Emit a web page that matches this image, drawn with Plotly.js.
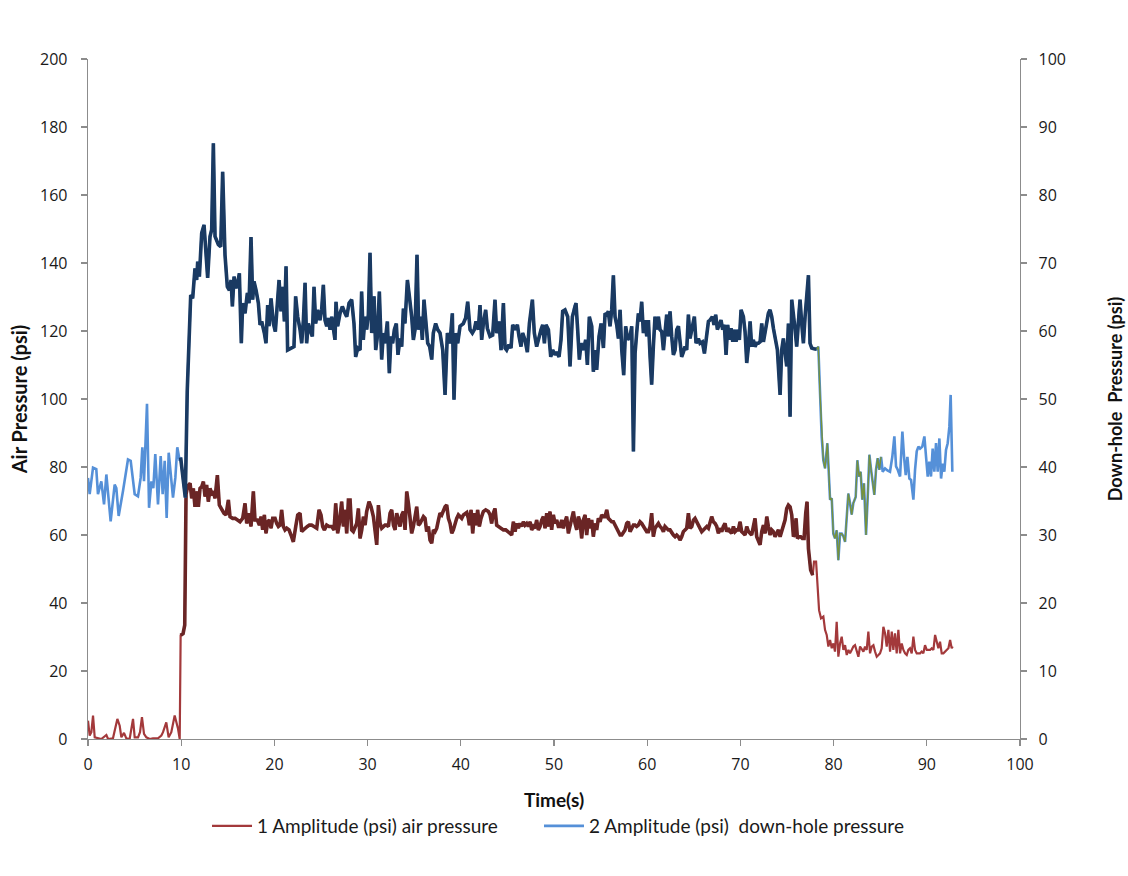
<!DOCTYPE html>
<html>
<head>
<meta charset="utf-8">
<script src="https://cdn.plot.ly/plotly-3.0.1.min.js"></script>
<style>
  html, body { margin: 0; padding: 0; background: #ffffff; }
  #chart { width: 1128px; height: 876px; }
</style>
</head>
<body>
<div id="chart"></div>
<script>
// ---------------- Data: air pressure (left axis, psi) ----------------
const airT_A = [0,0.18,0.36,0.54,0.72,1.07,1.43,1.97,2.15,2.68,3.15,3.4,3.58,3.86,4.11,4.47,4.83,5.01,5.37,5.58,5.79,6.01,6.26,6.62,6.97,7.51,7.87,8.05,8.4,8.65,8.94,9.3,9.66,9.84];
const airP_A = [5.4,1,2,6.9,0.5,0.2,0,1.2,0,0.2,5.9,3.9,0.5,1.8,0.2,0,5.9,0.5,0.5,2,6.4,1.5,0.5,0,0.2,0.2,1,2,4.9,0.5,2,6.9,3,0];

const airT_B1 = [9.94,10.2,10.38,10.52,10.7,10.95,11.13,11.3,11.48,11.66,11.84,12.02,12.2,12.38,12.56,12.73,12.91,13.09,13.27,13.45,13.63,13.88,14.09,14.34,14.59,14.81,15.06,15.24,15.52,15.78,16.03,16.31,16.6,16.85,17.03,17.28,17.49,17.74,17.92,18.17,18.39,18.57,18.74,18.92,19.1,19.28,19.46,19.64,19.82];
const airP_B1 = [30.5,31,33.5,72,74.4,75.2,70.8,73.7,68.3,72.8,68.3,73.7,74.2,75.7,71.3,74.7,69.8,73.7,72.3,72.8,70.8,77.6,68.8,67.4,66.4,65.9,70.3,65.4,64.9,64.9,64.4,63.9,64.9,69.3,63.4,66.4,62.5,72.8,64.4,64.4,62.9,65.4,61.5,65.9,60.5,63.9,64.4,62,64.9];

const airT_B2 = [20.07,20.25,20.43,20.6,20.78,20.96,21.14,21.32,21.57,21.78,22.03,22.29,22.5,22.75,22.93,23.11,23.29,23.54,23.75,24,24.25,24.54,24.79,25,25.18,25.36,25.61,25.86,26.15,26.4,26.58,26.79,26.97,27.22,27.4,27.58,27.76,27.94,28.12,28.29,28.47,28.65,28.83,29.01,29.19,29.37,29.55,29.73,29.9,30.15,30.37,30.62,30.8];
const airP_B2 = [64.9,63.4,62.5,62.9,67.4,62.5,61.5,62,61.5,60,58,62.5,65.9,66.4,61,61.5,62,62.5,62.9,62.9,62.5,62,67.4,65.9,62.5,61.5,62.9,62.5,62.5,61.5,69.3,60.5,63.4,69.8,62.5,67.4,60.5,70.3,70.3,61.5,61,62,63.4,67.8,59,61.5,65.4,62.9,66.9,69.8,68.3,65.4,61.5];

const airT_B3 = [30.98,31.16,31.34,31.51,31.69,31.87,32.05,32.23,32.41,32.59,32.77,32.95,33.12,33.3,33.48,33.66,33.84,34.02,34.2,34.38,34.55,34.73,34.91,35.09,35.27,35.45,35.63,35.81,35.99,36.16,36.34,36.52,36.7,36.88,37.06,37.24,37.42,37.6,37.77,37.95,38.13,38.31,38.49,38.67,38.85,39.03,39.2,39.38,39.56,39.74,39.92,40.1,40.28,40.46,40.64,40.81];
const airP_B3 = [57.1,68.8,63.4,62,62.5,62.9,62.9,62.5,66.4,67.4,62.9,61.5,66.4,63.9,62.5,65.9,66.9,61.5,72.8,69.3,65.9,60.5,62.5,65.4,68.3,62.9,63.4,64.4,65.4,64.9,61,62.5,58.5,57.6,61.5,61,62,64.4,66.4,65.9,67.4,68.3,68.8,64.9,63.4,60.5,61.5,63.4,64.9,65.9,65.4,64.9,65.9,66.4,66.6,64.9];

const airT_B4 = [40.92,41.1,41.28,41.45,41.63,41.81,41.99,42.17,42.42,42.67,42.96,43.14,43.31,43.49,43.67,43.85,44.03,44.28,44.57,44.82,45.1,45.28,45.46,45.64,45.82,46,46.18,46.35,46.53,46.71,46.89,47.07,47.25,47.43,47.61,47.79,47.96,48.14,48.32,48.5,48.68,48.86,49.04,49.22,49.4,49.57,49.75,49.93,50.11,50.29,50.47,50.65,50.83];
const airP_B4 = [62.9,67.4,60.5,66.4,62.9,67.4,62.5,64.9,66.9,67.4,66.9,65.9,63.4,66.4,67.8,62.9,62.5,62,61.5,61.5,61,60.5,60,63.9,61,63.4,62,63.4,62.5,63.9,62.9,63.4,62.5,63.9,61.5,62.5,62,64.4,61.5,62.5,64.4,65.4,62,66.4,62.5,66.9,61.5,65.9,63.4,64.4,62.5,62.5,64.4];

const airT_B5 = [51,51.18,51.36,51.54,51.72,51.9,52.08,52.26,52.44,52.61,52.79,52.97,53.15,53.33,53.51,53.69,53.87,54.05,54.22,54.4,54.58,54.76,54.94,55.12,55.3,55.48,55.66,55.83,56.01,56.19,56.37,56.55,56.73,56.91,57.09,57.27,57.44,57.62,57.8,57.98,58.16,58.34,58.52,58.7,58.87,59.05,59.23,59.41,59.59,59.77,59.95,60.13,60.31,60.48,60.66,60.84];
const airP_B5 = [62,63.9,65.4,60.5,62.9,64.4,66.9,63.4,61.5,65.4,63.9,59,64.4,65.9,60,64.9,62,64.4,59.5,63.4,61.5,64.9,63.9,65.9,65.4,65.4,67.4,64.9,64.4,63.9,63.9,62.9,62,61,60,60,61,61.5,63.4,63.9,61,62,62.9,62.9,62.5,62.9,63.9,63.4,62.5,61.5,61,61,62.5,66.4,59.5,62];

const airT_B6 = [61.02,61.2,61.38,61.56,61.74,61.91,62.09,62.27,62.45,62.63,62.81,62.99,63.17,63.35,63.52,63.7,63.88,64.06,64.24,64.42,64.6,64.78,64.96,65.13,65.31,65.49,65.67,65.85,66.03,66.21,66.39,66.57,66.74,66.92,67.1,67.28,67.46,67.64,67.82,68,68.17,68.35,68.53,68.71,68.89,69.07,69.25,69.43,69.61,69.78,69.96,70.14,70.32,70.5,70.68,70.86];
const airP_B6 = [62.9,63.4,62.5,62,61,62.5,62,61.5,61.5,60.5,60,59.5,60,59.5,58.5,59.5,61,61.5,62,66.4,62,62.5,64.4,64.9,63.9,62.5,62,61,61.5,62,62.5,62,63.9,65.4,63.9,63.4,62.5,60.5,62,61,62.5,63.4,61,62,61,60.5,62.5,61,61.5,61.5,63.9,61,60.5,60,62.5,61];

const airT_B7 = [71.04,71.21,71.39,71.57,71.75,71.93,72.11,72.29,72.47,72.65,72.83,73,73.18,73.36,73.54,73.72,73.9,74.08,74.26,74.43,74.61,74.79,74.97,75.15,75.33,75.51,75.69,75.87,75.97,76.12,76.29,76.47,76.65,76.83,77.01,77.15,77.3,77.54,77.76];
const airP_B7 = [60.5,60,62.5,64.9,59.5,58,57.1,61,62.9,60.5,65.4,62.5,60,61.5,61,59.5,60.5,61.5,59.5,61,62.5,64.4,67.8,68.8,68.3,65.9,59.5,60.5,64.9,59,59.5,59.5,59,59,66.4,69.8,56,49.7,48.2];

const airT_C = [77.9,78.12,78.29,78.44,78.65,78.9,79.08,79.26,79.44,79.62,79.8,79.98,80.15,80.33,80.51,80.69,80.87,81.05,81.23,81.41,81.59,81.76,81.94,82.12,82.3,82.48,82.66,82.84,83.02,83.2,83.37,83.55,83.73,83.91,84.09,84.27,84.45,84.63,84.81,84.98,85.16,85.34,85.52,85.7,85.88,86.06,86.24,86.41,86.59,86.77,86.95,87.13,87.31,87.49,87.67,87.85,88.02,88.2,88.38,88.56,88.74,88.92,89.1,89.28,89.45,89.63,89.81,89.99,90.17,90.35,90.53,90.71,90.89,91.06,91.24,91.42,91.6,91.78,91.96,92.14,92.32,92.5,92.67,92.78];
const airP_C = [52.2,52.2,43.8,37.9,35.5,36,32.1,30.6,27.2,29.1,26.7,28.1,25.7,34.5,24.2,28.1,30.1,26.2,27.6,24.7,26.2,25.2,26.2,27.2,27.6,25.7,24.2,27.2,26.2,25.7,27.2,26.2,31.6,25.2,27.2,27.6,25.7,24.2,24.7,25.2,26.7,33,31.1,27.2,32.1,25.7,31.6,26.2,31.1,25.2,32.1,25.2,28.1,26.2,25.2,24.7,26.2,26.7,25.2,30.1,26.2,25.2,25.2,25.2,25.7,25.2,27.6,26.2,26.2,26.2,26.7,26.2,30.6,28.6,26.7,28.6,25.2,25.2,25.7,26.2,26.7,29.1,26.7,27.2];

// ---------------- Data: down-hole pressure (right axis, psi) ----------------
const holeT_A = [0,0.18,0.54,0.89,1.07,1.43,1.72,1.97,2.43,2.86,3.04,3.29,3.76,4.29,4.58,5.01,5.36,5.65,5.83,6.01,6.33,6.55,6.8,7.01,7.22,7.51,7.8,8.01,8.23,8.44,8.66,8.87,9.12,9.37,9.58,9.84];
const holeP_A = [38.4,36,39.9,39.7,36,37.9,34.5,38.9,32,37.4,36.9,32.8,36.5,41.1,40.9,36,35.7,38.4,42.9,37.9,49.3,34,37.9,36.9,41.9,34.5,41.6,36,40.9,32.5,42.1,39.4,35.5,38.4,42.9,40.9];

const holeT_B1 = [9.94,10.19,10.44,10.65,11.02,11.23,11.48,11.66,11.77,11.95,12.2,12.45,12.66,12.84,13.09,13.27,13.45,13.63,13.99,14.24,14.45,14.7,14.95,15.17,15.35,15.49,15.67,15.88,16.06,16.24,16.45,16.6,16.85,17.1,17.28,17.49,17.67,17.81,18.03,18.28,18.46,18.64,18.92,19.1,19.28,19.42,19.64,19.89];
const holeP_B1 = [41.4,38.4,35.5,51.3,65.3,64.8,69.2,67.5,70.2,68,74.4,75.6,71.9,67.8,73.9,74.9,87.6,73.9,72.7,72.4,83.4,71.2,66.5,66,67.5,63.6,68,66.3,67,68.5,58.2,64.1,62.6,65.6,64.1,73.8,64.6,67.3,66,64.1,60.9,61.4,59.7,58.2,63.8,60.7,64.8,61.1];

const holeT_B2 = [20.1,20.32,20.5,20.71,20.89,21.07,21.25,21.42,21.85,22.1,22.28,22.5,22.75,22.93,23.11,23.29,23.46,23.64,23.82,24.07,24.25,24.43,24.64,24.89,25.07,25.25,25.43,25.61,25.79,25.97,26.15,26.33,26.5,26.61,26.79,27.04,27.29,27.58,27.76,28.01,28.29,28.54,28.72,28.94,29.19,29.36,29.54,29.72,29.9];
const holeP_B2 = [59.9,64.1,67.5,62.9,66.5,61.4,69.5,57.2,57.5,57.7,65.1,62.1,60.2,58.2,61.6,67.1,58.2,61.1,60.2,59.2,66.5,61.1,63.1,61.6,63.1,66.8,61.6,60.7,61.9,60.2,62.1,60.2,58.7,64.3,60.7,62.6,63.6,62.6,62.1,64.1,64.6,61.1,56.2,57.5,57.2,65.8,58.7,62.1,60.2];

const holeT_B3 = [30.08,30.26,30.44,30.69,30.87,31.05,31.26,31.51,31.69,31.87,32.12,32.33,32.51,32.69,32.87,33.08,33.26,33.48,33.66,33.84,34.01,34.27,34.48,34.73,34.91,35.09,35.3,35.48,35.7,35.87,36.05,36.23,36.45,36.66,36.88,37.05,37.3,37.52,37.77,38.06,38.31,38.56,38.84,39.09,39.27,39.49,39.67,39.92];
const holeP_B3 = [62.4,71.5,59.7,65.1,57.2,59.2,65.8,55.8,59.7,58.2,61.4,53.8,59.2,58.2,60.2,61.1,56.5,58.9,57.7,63.3,61.1,67.5,65.1,62.1,58.7,60.2,71.2,60.2,62.1,58.7,64.6,62.1,58.2,57.7,55.8,59.7,61.1,60.2,59.7,57.2,50.6,59.7,58.2,62.6,49.9,59.7,58.2,60.7];

const holeT_B4 = [40.27,40.52,40.74,40.99,41.24,41.45,41.63,41.88,42.06,42.24,42.42,42.67,42.85,43.14,43.42,43.67,43.85,44.1,44.32,44.57,44.75,44.92,45.17,45.39,45.57,45.82,46.07,46.25,46.46,46.64,46.89,47.14,47.36,47.68,47.89,48.14,48.39,48.61,48.79,48.97,49.14,49.4,49.65,49.86];
const holeP_B4 = [61.1,61.9,64.3,60.2,59.7,60.2,61.4,60.2,63.8,58.7,61.1,63.1,60.4,59.2,59.4,64.6,59.7,61.4,57.2,64.1,57.5,57.2,58,57.5,60.9,60.2,60.9,59.2,57.7,59.7,58.7,56.9,61.1,64.6,59.7,57.7,59.2,60.2,60.9,58.2,60.9,60.2,56.2,57.2];

const holeT_B5 = [50.11,50.29,50.54,50.75,50.93,51.18,51.47,51.72,51.97,52.19,52.36,52.54,52.72,52.9,53.15,53.4,53.58,53.79,54.05,54.22,54.4,54.58,54.83,55.05,55.3,55.48,55.66,55.83,56.01,56.19,56.37,56.55,56.73,56.91,57.09,57.27,57.48,57.69,57.91,58.16,58.34,58.52,58.7,58.87,59.05,59.23,59.41,59.59,59.77,59.95];
const holeP_B5 = [56.5,56.9,56.2,58.7,62.9,63.1,62.1,54.8,62.1,63.6,64.1,60.2,55.8,58.2,57.2,58.7,55,62.1,60.7,54,57.2,54.3,59.2,61.1,57.5,62.6,62.4,62.9,60.7,63.1,68.2,62.1,60.9,58.9,63.1,57.2,53.5,60.7,58.7,59.2,60.7,42.3,56.7,59.7,62.6,61.4,64.3,59.7,61.6,59.2];

const holeT_B6 = [60.13,60.31,60.48,60.66,60.84,61.02,61.2,61.38,61.56,61.74,61.91,62.09,62.27,62.45,62.63,62.81,62.99,63.17,63.35,63.52,63.7,63.88,64.06,64.24,64.42,64.6,64.85,65.06,65.24,65.49,65.67,65.92,66.14,66.39,66.57,66.74,66.99,67.17,67.35,67.53,67.71,67.92,68.1,68.28,68.46,68.64,68.82,69,69.18,69.35,69.53,69.71,69.89];
const holeP_B6 = [61.6,56.2,52.1,57.7,62.1,60.2,62.1,60.2,59.9,57.2,59.7,62.4,59.2,62.9,59.2,56.5,57.2,60.2,60.7,58.9,56.2,56.9,57.7,57.2,62.4,58.9,60.7,62.1,58.2,58.9,58.2,58.4,56.7,59.7,61.4,61.6,62.1,60.9,62.4,60.2,60.9,61.6,60.2,60.9,56.5,60.9,58.7,60.4,58.4,60.2,58.4,60.2,58.7];

const holeT_B7 = [70.07,70.32,70.5,70.68,70.86,71.04,71.21,71.39,71.57,71.75,71.93,72.11,72.29,72.47,72.65,72.83,73,73.18,73.36,73.54,73.72,73.97,74.26,74.43,74.61,74.79,74.97,75.15,75.33,75.51,75.69,75.87,76.04,76.22,76.4,76.58,76.76,76.94,77.12,77.3,77.47,77.65,77.9,78.19];
const holeP_B7 = [63.1,62.1,59.9,55.3,57.7,61.4,57.7,58.7,57.7,58.2,58.2,58.4,61.1,58.4,59.7,61.4,62.6,63.1,62.1,60.4,59.2,57.2,50.6,57.2,58.9,57.2,54.8,61.1,47.4,64.6,61.6,60.2,57.7,62.1,64.6,61.1,58.2,62.1,65.6,68.2,58.2,57.5,57.4,57.3];

const holeT_C = [78.36,78.54,78.72,78.9,79.08,79.33,79.51,79.62,79.8,79.97,80.15,80.33,80.51,80.69,80.87,81.05,81.23,81.4,81.58,81.76,81.94,82.12,82.37,82.55,82.73,82.9,83.08,83.26,83.48,83.66,83.84,84.02,84.2,84.37,84.55,84.73,84.91,85.09];
const holeP_C = [57.7,50.8,44.5,41,39.8,43.5,38.6,35.2,35.4,30.2,29.5,30.7,26.3,30.2,30.2,29.8,29,32.7,36.1,34.7,33,34.7,35.6,41,38.6,39.3,35.2,37.6,30,35.6,41.8,39.6,37.6,35.9,39.6,41.3,39.6,41.5];

const holeT_D = [85.27,85.52,85.77,86.05,86.3,86.52,86.7,86.88,87.13,87.38,87.56,87.74,87.92,88.13,88.31,88.56,88.74,88.92,89.1,89.28,89.52,89.74,89.92,90.1,90.27,90.45,90.63,90.81,90.99,91.17,91.35,91.53,91.71,91.88,92.06,92.24,92.42,92.56,92.74];
const holeP_D = [39.3,39.8,39.5,39.3,41.5,44.5,40.1,39.6,38.6,45.2,41.5,38.8,41.5,38.3,38.1,35.2,39.6,42.3,43,42.7,43,44.5,41.5,38.6,40.8,38.6,42.7,39.3,43.5,39.3,44.2,38.3,40.5,39.3,42.5,43.5,45.9,50.6,39.3];

// Highlighted (re-drawn) time spans, in seconds
const airSteadySpan = [9.94, 77.76];
const holeSteadySpan = [9.94, 78.19];
const holeRecoverySpan = [78.19, 85.09];

const seriesNames = ['1 Amplitude (psi) air pressure', '2 Amplitude (psi)\u00A0 down-hole pressure'];
const axisTitles = { x: 'Time(s)', yLeft: 'Air Pressure (psi)', yRight: 'Down-hole\u00A0 Pressure (psi)' };

// ---------------- Build ----------------
function join(parts) { return [].concat.apply([], parts); }
const airT = join([airT_A, airT_B1, airT_B2, airT_B3, airT_B4, airT_B5, airT_B6, airT_B7, airT_C]);
const airP = join([airP_A, airP_B1, airP_B2, airP_B3, airP_B4, airP_B5, airP_B6, airP_B7, airP_C]);
const holeT = join([holeT_A, holeT_B1, holeT_B2, holeT_B3, holeT_B4, holeT_B5, holeT_B6, holeT_B7, holeT_C, holeT_D]);
const holeP = join([holeP_A, holeP_B1, holeP_B2, holeP_B3, holeP_B4, holeP_B5, holeP_B6, holeP_B7, holeP_C, holeP_D]);

function span(ts, vs, range) {
  const x = [], y = [];
  const n = Math.min(ts.length, vs.length);
  for (let i = 0; i < n; i++) {
    if (ts[i] >= range[0] - 1e-9 && ts[i] <= range[1] + 1e-9) { x.push(ts[i]); y.push(vs[i]); }
  }
  return { x: x, y: y };
}

const airN = Math.min(airT.length, airP.length);
const holeN = Math.min(holeT.length, holeP.length);
const airSteady = span(airT, airP, airSteadySpan);
const holeSteady = span(holeT, holeP, holeSteadySpan);
const holeRecovery = span(holeT, holeP, holeRecoverySpan);

const traces = [
  { x: holeT.slice(0, holeN), y: holeP.slice(0, holeN), yaxis: 'y2', type: 'scatter', mode: 'lines',
    name: seriesNames[1], legend: 'legend2', line: { color: '#5590D8', width: 2.6 } },
  { x: airT.slice(0, airN), y: airP.slice(0, airN), yaxis: 'y', type: 'scatter', mode: 'lines',
    name: seriesNames[0], legend: 'legend', line: { color: '#A3393B', width: 2.2 } },
  { x: holeSteady.x, y: holeSteady.y, yaxis: 'y2', type: 'scatter', mode: 'lines',
    showlegend: false, line: { color: '#1A3A62', width: 3.6 } },
  { x: airSteady.x, y: airSteady.y, yaxis: 'y', type: 'scatter', mode: 'lines',
    showlegend: false, line: { color: '#6A2525', width: 3.6 } },
  { x: holeRecovery.x, y: holeRecovery.y, yaxis: 'y2', type: 'scatter', mode: 'lines',
    showlegend: false, line: { color: '#76923C', width: 1.4 } }
];

const axisGray = '#8C8C8C';
const tickFont = { family: 'Open Sans, sans-serif', size: 16, color: '#1a1a1a' };
const leftTitleFont = { family: 'Lato, sans-serif', size: 20, color: '#111111', weight: 700 };
const rightTitleFont = { family: 'Lato, sans-serif', size: 18, color: '#111111', weight: 700 };
const xTitleFont = { family: 'Lato, sans-serif', size: 19, color: '#111111', weight: 700 };
const legendFont = { family: 'Lato, sans-serif', size: 19, color: '#1a1a1a' };

const layout = {
  width: 1128, height: 876,
  margin: { l: 88, r: 108, t: 59, b: 137 },
  paper_bgcolor: '#ffffff', plot_bgcolor: '#ffffff',
  showlegend: true,
  hovermode: false,
  legend: {
    orientation: 'h', x: 0.1277, xanchor: 'left', y: -0.128, yanchor: 'middle',
    font: legendFont, itemwidth: 40, bgcolor: 'rgba(0,0,0,0)'
  },
  legend2: {
    orientation: 'h', x: 0.4839, xanchor: 'left', y: -0.128, yanchor: 'middle',
    font: legendFont, itemwidth: 40, bgcolor: 'rgba(0,0,0,0)'
  },
  xaxis: {
    range: [0, 100], tick0: 0, dtick: 10, ticks: 'outside', ticklen: 6, tickwidth: 1.3, tickcolor: axisGray,
    showline: true, linecolor: axisGray, linewidth: 1.3, showgrid: false, zeroline: false,
    tickfont: tickFont, ticklabelstandoff: 4, automargin: false,
    title: { text: axisTitles.x, font: xTitleFont, standoff: 20 }
  },
  yaxis: {
    range: [0, 200], tick0: 0, dtick: 20, ticks: 'outside', ticklen: 6, tickwidth: 1.3, tickcolor: axisGray,
    showline: true, linecolor: axisGray, linewidth: 1.3, showgrid: false, zeroline: false,
    tickfont: tickFont, ticklabelstandoff: 10, automargin: false,
    title: { text: axisTitles.yLeft, font: leftTitleFont, standoff: 7 }
  },
  yaxis2: {
    range: [0, 100], tick0: 0, dtick: 10, ticks: 'outside', ticklen: 6, tickwidth: 1.3, tickcolor: axisGray,
    showline: true, linecolor: axisGray, linewidth: 1.3, showgrid: false, zeroline: false,
    overlaying: 'y', side: 'right', anchor: 'x',
    tickfont: tickFont, ticklabelstandoff: 8, automargin: false,
    title: { text: axisTitles.yRight, font: rightTitleFont, standoff: 44 }
  }
};

Plotly.newPlot('chart', traces, layout, { staticPlot: true, displayModeBar: false });
</script>
</body>
</html>
